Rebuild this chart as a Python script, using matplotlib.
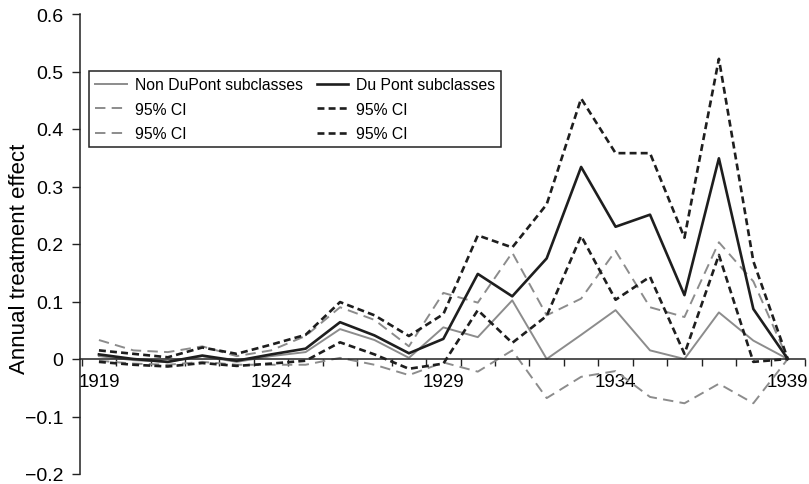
import matplotlib
matplotlib.use("Agg")
import matplotlib.pyplot as plt
import numpy as np

plt.rcParams['font.family'] = ['Liberation Sans', 'DejaVu Sans']
plt.rcParams['lines.scale_dashes'] = False

years = list(range(1919, 1940))

non_dupont = [0.005, -0.002, -0.005, 0.005, -0.005, 0.005, 0.012, 0.052, 0.033, 0.002,
              0.055, 0.038, 0.102, 0.0, 0.042, 0.085, 0.015, 0.0, 0.081, 0.032, 0.0]
non_upper = [0.033, 0.015, 0.012, 0.022, 0.005, 0.015, 0.040, 0.090, 0.068, 0.022,
             0.115, 0.098, 0.185, 0.076, 0.105, 0.188, 0.090, 0.073, 0.203, 0.135, 0.0]
non_lower = [-0.003, -0.008, -0.010, -0.005, -0.010, -0.010, -0.010, 0.002, -0.010, -0.028,
             -0.006, -0.022, 0.015, -0.068, -0.031, -0.021, -0.066, -0.077, -0.043, -0.077, 0.0]

dupont = [0.008, 0.0, -0.005, 0.006, -0.003, 0.008, 0.018, 0.064, 0.041, 0.010,
          0.035, 0.148, 0.109, 0.175, 0.334, 0.230, 0.251, 0.111, 0.349, 0.087, 0.0]
du_upper = [0.015, 0.009, 0.003, 0.020, 0.009, 0.025, 0.042, 0.099, 0.076, 0.040,
            0.078, 0.215, 0.194, 0.269, 0.453, 0.358, 0.358, 0.211, 0.522, 0.170, 0.0]
du_lower = [-0.005, -0.010, -0.013, -0.007, -0.012, -0.008, -0.003, 0.029, 0.008, -0.017,
            -0.008, 0.085, 0.028, 0.075, 0.214, 0.103, 0.143, 0.009, 0.181, -0.005, 0.0]

xtick_labels = ['1919', '1924', '1929', '1934', '1939']
ytick_vals = [-0.2, -0.1, 0, 0.1, 0.2, 0.3, 0.4, 0.5, 0.6]
ytick_labels = ['\u22120.2', '\u22120.1', '0', '0.1', '0.2', '0.3', '0.4', '0.5', '0.6']

gray = '#8c8c8c'
black = '#1e1e1e'

fig = plt.figure(figsize=(8.09, 4.85), dpi=100)
top_px, bot_px = 15, 475
ax = fig.add_axes([80/809, 1 - bot_px/485, 725/809, (bot_px - top_px)/485])

l1, = ax.plot(years, non_dupont, color=gray, lw=1.4, label='Non DuPont subclasses')
l2, = ax.plot(years, non_upper, color=gray, lw=1.4, dashes=(7.5, 4.5), label='95% CI')
l3, = ax.plot(years, non_lower, color=gray, lw=1.4, dashes=(7.5, 4.5), label='95% CI')
l4, = ax.plot(years, dupont, color=black, lw=1.9, label='Du Pont subclasses')
l5, = ax.plot(years, du_upper, color=black, lw=1.9, dashes=(5, 3), label='95% CI')
l6, = ax.plot(years, du_lower, color=black, lw=1.9, dashes=(5, 3), label='95% CI')

ax.set_xlim(1918.45, 1939.5)
ax.set_ylim(-0.2, 0.6)

for s in ['top', 'right']:
    ax.spines[s].set_visible(False)
ax.spines['bottom'].set_position(('data', 0))
for s in ['bottom', 'left']:
    ax.spines[s].set_color('#222222')
    ax.spines[s].set_linewidth(1.1)

ax.set_xticks([int(t) for t in xtick_labels])
ax.set_xticklabels(xtick_labels)
ax.set_xticks(np.arange(1918.5, 1939.6, 1.0), minor=True)
ax.tick_params(axis='x', which='major', length=0, labelsize=13.5, pad=10)
ax.tick_params(axis='x', which='minor', length=5, width=1.0, direction='out', color='#222222')

ax.set_yticks(ytick_vals)
ax.set_yticklabels(ytick_labels)
ax.tick_params(axis='y', length=6, width=1.0, direction='out', labelsize=14, pad=6,
               color='#222222')

ax.set_ylabel('Annual treatment effect', fontsize=16)
ax.yaxis.set_label_coords(-50/725, 0.47)

leg = ax.legend(handles=[l1, l2, l3, l4, l5, l6], ncol=2, loc='upper left',
                bbox_to_anchor=(9/725, (bot_px - 72)/(bot_px - top_px)), borderaxespad=0,
                fontsize=11.3, frameon=True, fancybox=False, framealpha=1,
                handlelength=2.0, handletextpad=0.5, columnspacing=0.9,
                labelspacing=0.6, borderpad=0.4)
leg.get_frame().set_edgecolor('#222222')
leg.get_frame().set_linewidth(1.1)

fig.savefig('out.png', dpi=100)
